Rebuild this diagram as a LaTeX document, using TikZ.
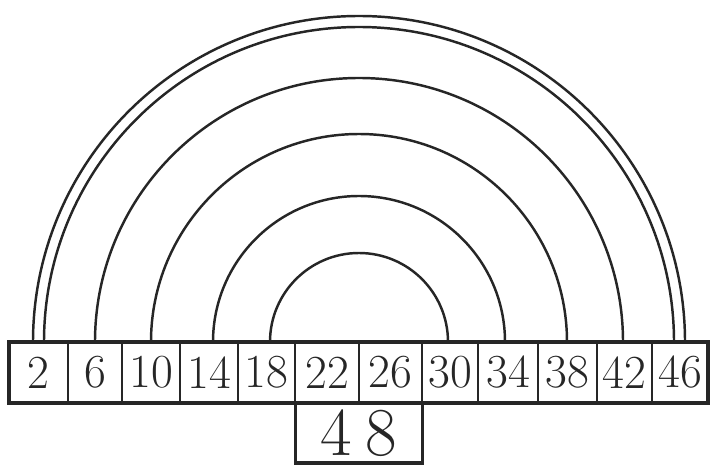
\documentclass[tikz,border=0pt]{standalone}
\usepackage{tikz}
\usetikzlibrary{positioning}

\begin{document}
\begin{tikzpicture}[x=1cm, y=1cm, black!85,
    cell/.style={draw, line width=0.9pt, inner sep=0pt, outer sep=0pt, minimum height=1.22cm, font=\fontsize{27}{29}\selectfont},
    frame/.style={draw, line width=2pt},
    arc/.style={line width=1.4pt}]
    \useasboundingbox (0,0) rectangle (14.2,9.38);
    % row of numbers
    \node[cell, minimum width=1.18cm, anchor=west] (c2) at (0.18,1.93) {2};
    \node[cell, minimum width=1.08cm, right=0pt of c2] (c6) {6};
    \node[cell, minimum width=1.16cm, right=0pt of c6] (c10) {10};
    \node[cell, minimum width=1.16cm, right=0pt of c10] (c14) {14};
    \node[cell, minimum width=1.14cm, right=0pt of c14] (c18) {18};
    \node[cell, minimum width=1.28cm, right=0pt of c18] (c22) {22};
    \node[cell, minimum width=1.26cm, right=0pt of c22] (c26) {26};
    \node[cell, minimum width=1.12cm, right=0pt of c26] (c30) {30};
    \node[cell, minimum width=1.20cm, right=0pt of c30] (c34) {34};
    \node[cell, minimum width=1.18cm, right=0pt of c34] (c38) {38};
    \node[cell, minimum width=1.10cm, right=0pt of c38] (c42) {42};
    \node[cell, minimum width=1.12cm, right=0pt of c42] (c46) {46};
    \draw[frame] (c2.south west) rectangle (c46.north east);
    % the sum
    \node[frame, inner sep=0pt, outer sep=0pt, minimum width=2.54cm, minimum height=1.2cm, anchor=north,
        font=\fontsize{39}{41}\selectfont] (total) at (c22.south east) {4\hspace{0.2em}8};
    % arcs joining the pairs
    \coordinate (hub) at (c22.north east);
    \draw[arc] ([xshift=-1.78cm]hub) arc[start angle=180, end angle=0, radius=1.78cm];
    \draw[arc] ([xshift=-2.92cm]hub) arc[start angle=180, end angle=0, radius=2.92cm];
    \draw[arc] ([xshift=-4.16cm]hub) arc[start angle=180, end angle=0, radius=4.16cm];
    \draw[arc] ([xshift=-5.28cm]hub) arc[start angle=180, end angle=0, radius=5.28cm];
    \draw[arc] ([xshift=-6.30cm]hub) arc[start angle=180, end angle=0, radius=6.30cm];
    \draw[arc] ([xshift=-6.52cm]hub) arc[start angle=180, end angle=0, radius=6.52cm];
\end{tikzpicture}
\end{document}
